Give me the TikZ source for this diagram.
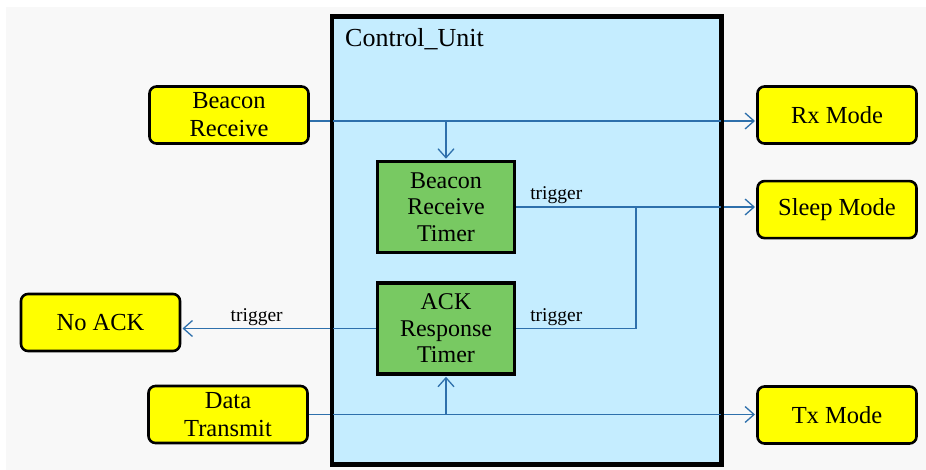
\documentclass[tikz,border=0pt]{standalone}
\usepackage{fontspec}
\setmainfont{Liberation Serif}
\usepackage{xcolor}
\usetikzlibrary{positioning,arrows.meta}
\definecolor{unitblue}{RGB}{197,237,255}
\definecolor{modeyellow}{RGB}{255,255,0}
\definecolor{timergreen}{RGB}{120,201,98}
\definecolor{wireblue}{RGB}{46,112,172}
\definecolor{paper}{RGB}{248,248,248}
\tikzset{
  modebox/.style={draw=black, line width=2.6pt, rounded corners=7pt, fill=modeyellow,
    minimum width=159pt, minimum height=57pt, inner sep=0pt, align=center,
    font=\fontsize{24.5}{28}\selectfont},
  timerbox/.style={draw=black, line width=3.2pt, fill=timergreen,
    minimum width=137pt, minimum height=91pt, inner sep=0pt, align=center,
    font=\fontsize{24}{26.5}\selectfont},
  wire/.style={draw=wireblue, line width=1.3pt},
  wirearrow/.style={wire, -{Straight Barb[length=9pt,width=16pt]}, shorten >=1.2pt},
  trig/.style={font=\fontsize{19.5}{21}\selectfont, inner sep=0pt}
}

\begin{document}
\begin{tikzpicture}[x=1pt,y=-1pt]
\useasboundingbox (0,0) rectangle (926,470);
\fill[paper] (6,7) rectangle (926,470); % page
\node[draw=black, line width=3pt, fill=unitblue, minimum width=388pt, minimum height=446pt,
  inner sep=0pt] (unit) at (526.5,240.5) {}; % Control_Unit
\node[inner sep=0pt, font=\fontsize{26}{28}\selectfont, below right=12pt and 14pt of unit.north west] (unitname) {Control\_Unit};
%% Boxes outside the unit
\node[modebox] (brx) at (229,115) {Beacon\\Receive};
\node[modebox] (datatx) at (228,414.5) {Data\\Transmit};
\node[modebox] (noack) at (100.5,322.5) {No ACK};
\node[modebox] (rxmode) at (837,115) {Rx Mode};
\node[modebox, below=35pt of rxmode] (sleepmode) {Sleep Mode};
\node[modebox] (txmode) at (837,415) {Tx Mode};
%% Timers
\node[timerbox] (brtimer) at (446,207) {Beacon\\Receive\\Timer};
\node[timerbox] (ackt) at (446,328.5) {ACK\\Response\\Timer};
%% Wires
\coordinate (brxout) at ([yshift=-6pt]brx.east);
\coordinate (join) at (636,0);
\draw[wirearrow] (brxout) -- (rxmode.west |- brxout); % Beacon -> Rx
\draw[wirearrow] (brtimer.north |- brxout) -- (brtimer.north); % Beacon -> timer
\draw[wirearrow] (brtimer.east) -- (sleepmode.west |- brtimer.east); % timer -> Sleep
\draw[wire] (ackt.east) -| (join |- brtimer.east); % ACK timer -> Sleep
\draw[wirearrow] (ackt.west) -- (noack.east |- ackt.west); % ACK timer -> No ACK
\draw[wirearrow] (datatx.east) -- (txmode.west |- datatx.east); % Data -> Tx
\draw[wirearrow] (ackt.south |- datatx.east) -- (ackt.south); % Data -> ACK timer
\draw[line width=3pt] (unit.north west) rectangle (unit.south east); % border over the wires
%% trigger labels
\node[trig, above right=3pt and 14pt of brtimer.east] (trigsleep) {trigger};
\node[trig, above right=3pt and 14pt of ackt.east] (trigack) {trigger};
\node[trig, above left=3pt and 93pt of ackt.west] (trignoack) {trigger};
\end{tikzpicture}
\end{document}
